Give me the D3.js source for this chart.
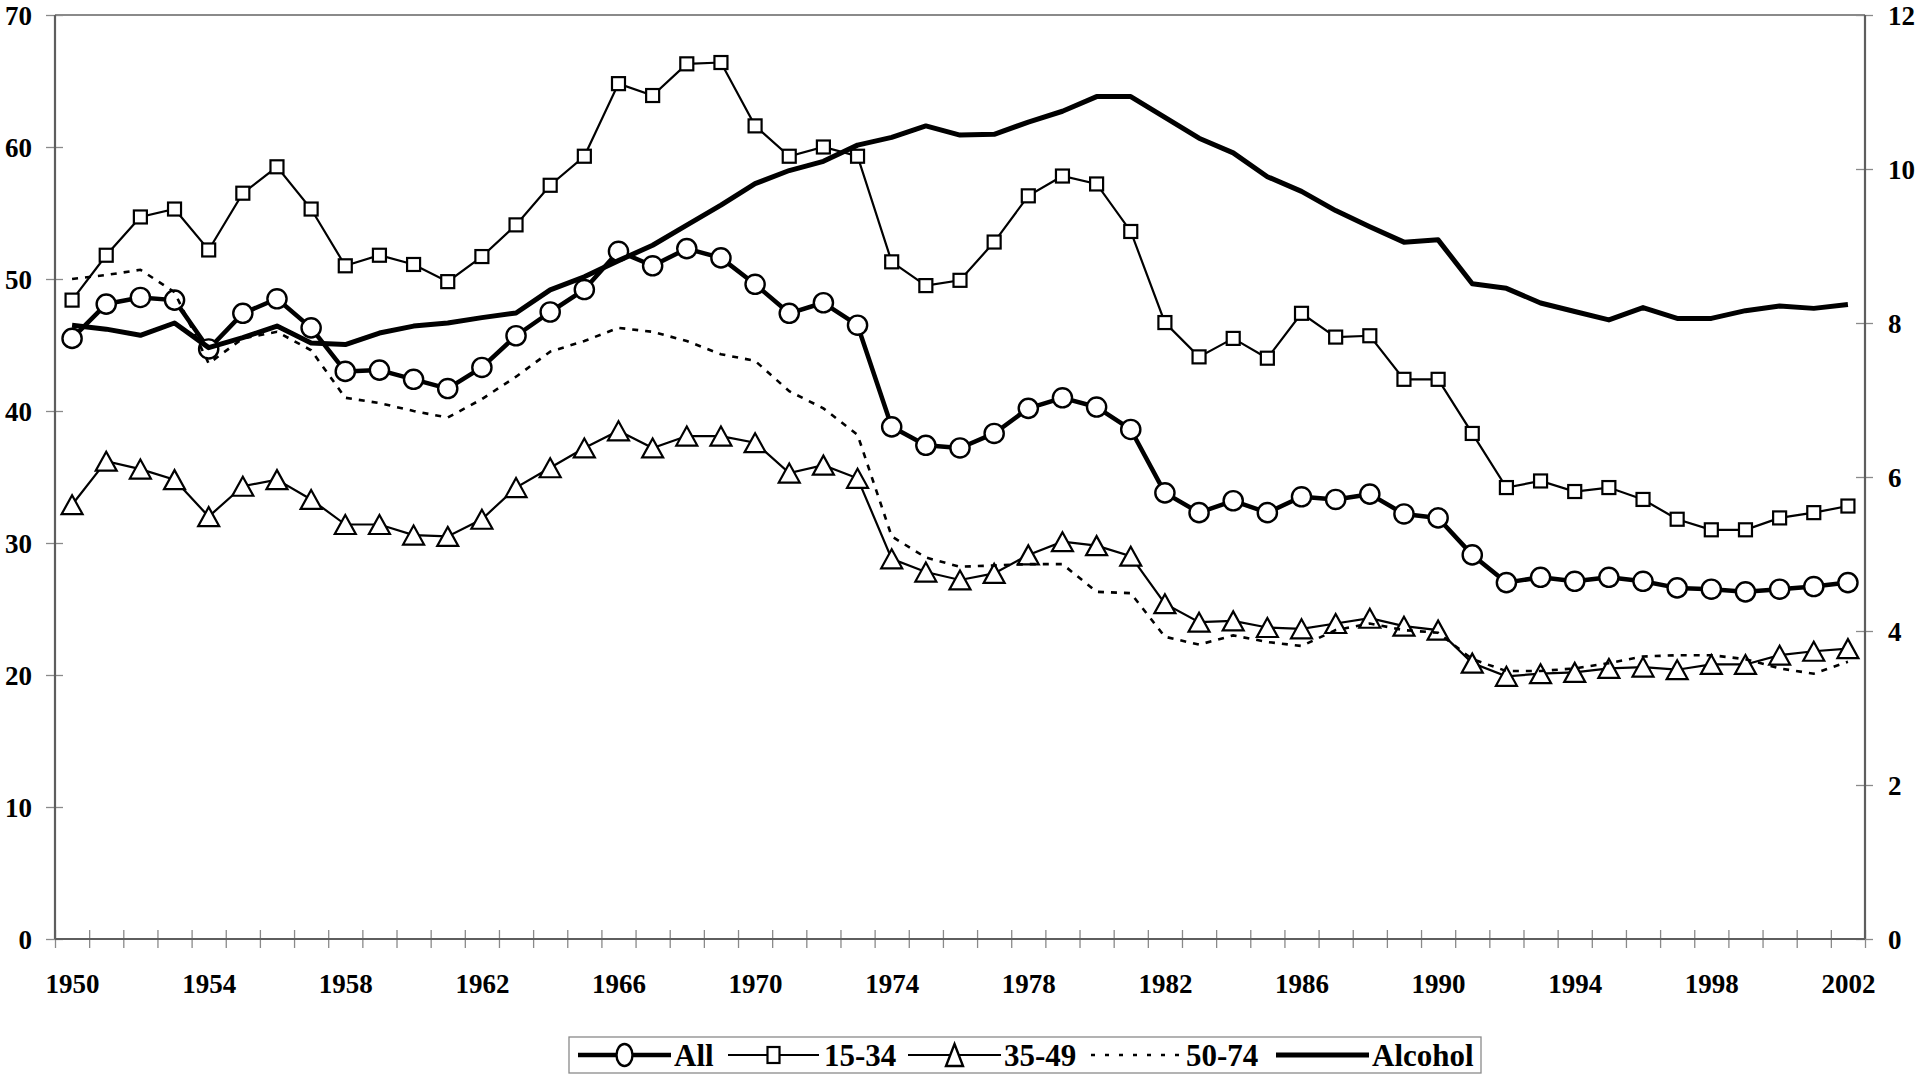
<!DOCTYPE html>
<html>
<head>
<meta charset="utf-8">
<script src="https://cdn.jsdelivr.net/npm/d3@7"></script>
<style>
  body { margin: 0; background: #fff; }
  svg text { font-family: "Liberation Serif", "Times New Roman", serif; font-weight: bold; fill: #000; }
</style>
</head>
<body>
<div id="chart"></div>
<script>
// categories
var years = d3.range(1950, 2003);
var yearLabels = [1950, 1954, 1958, 1962, 1966, 1970, 1974, 1978, 1982, 1986, 1990, 1994, 1998, 2002];
var leftTicks = [0, 10, 20, 30, 40, 50, 60, 70];
var rightTicks = [0, 2, 4, 6, 8, 10, 12];

// series (left axis)
var allAges = [45.5,48.1,48.6,48.4,44.7,47.4,48.5,46.3,43.0,43.1,
               42.4,41.7,43.3,45.7,47.5,49.2,52.1,51.0,52.3,51.6,
               49.6,47.4,48.2,46.5,38.8,37.4,37.2,38.3,40.2,41.0,
               40.3,38.6,33.8,32.3,33.2,32.3,33.5,33.3,33.7,32.2,
               31.9,29.1,27.0,27.4,27.1,27.4,27.1,26.6,26.5,26.3,
               26.5,26.7,27.0];
var age1534 = [48.4,51.8,54.7,55.3,52.2,56.5,58.5,55.3,51.0,51.8,
               51.1,49.8,51.7,54.1,57.1,59.3,64.8,63.9,66.3,66.4,
               61.6,59.3,60.0,59.3,51.3,49.5,49.9,52.8,56.3,57.8,
               57.2,53.6,46.7,44.1,45.5,44.0,47.4,45.6,45.7,42.4,
               42.4,38.3,34.2,34.7,33.9,34.2,33.3,31.8,31.0,31.0,
               31.9,32.3,32.8];
var age3549 = [32.9,36.2,35.6,34.8,32.0,34.3,34.8,33.3,31.4,31.4,
               30.6,30.5,31.8,34.2,35.7,37.2,38.5,37.2,38.1,38.1,
               37.6,35.3,35.9,34.9,28.8,27.8,27.2,27.7,29.1,30.1,
               29.8,29.0,25.4,24.0,24.1,23.6,23.5,23.9,24.3,23.7,
               23.4,20.9,19.9,20.1,20.2,20.5,20.6,20.4,20.8,20.8,
               21.5,21.8,22.0];
var age5074 = [50.0,50.3,50.7,49.0,43.6,45.5,46.0,44.6,41.0,40.6,
               40.0,39.5,40.9,42.6,44.5,45.3,46.3,46.0,45.3,44.3,
               43.8,41.5,40.2,38.2,30.5,28.9,28.2,28.3,28.4,28.4,
               26.3,26.2,22.9,22.3,23.0,22.5,22.2,23.4,23.9,23.4,
               23.2,21.2,20.3,20.3,20.5,20.9,21.4,21.5,21.5,21.2,
               20.5,20.1,21.0];
// series (right axis)
var alcohol = [7.97,7.92,7.84,8.00,7.68,7.81,7.96,7.74,7.72,7.87,
               7.96,8.00,8.07,8.13,8.43,8.60,8.81,9.01,9.27,9.53,
               9.81,9.98,10.10,10.31,10.41,10.56,10.44,10.45,10.61,10.75,
               10.94,10.94,10.67,10.40,10.21,9.90,9.71,9.46,9.25,9.05,
               9.08,8.51,8.45,8.26,8.15,8.04,8.20,8.06,8.06,8.16,
               8.22,8.19,8.24];
var legendNames = ["All", "15-34", "35-49", "50-74", "Alcohol"];

var W = 1920, H = 1080;
var plotL = 55, plotR = 1865, plotT = 15, plotB = 939;

var svg = d3.select("#chart").append("svg").attr("width", W).attr("height", H);

var x = d3.scalePoint().domain(years).range([plotL, plotR]).padding(0.5);
var xEdge = d3.scaleLinear().domain([1950, 2003]).range([plotL, plotR]);
var yL = d3.scaleLinear().domain([0, 70]).range([plotB, plotT]);
var yR = d3.scaleLinear().domain([0, 12]).range([plotB, plotT]);

var axisColor = "#5e5e5e", tickColor = "#8a8a8a";

// plot frame top
svg.append("line").attr("x1", plotL).attr("x2", plotR).attr("y1", plotT).attr("y2", plotT)
    .attr("stroke", "#8a8a8a").attr("stroke-width", 2);

// x ticks at category boundaries
var xt = svg.append("g").attr("transform", "translate(0," + plotB + ")")
    .call(d3.axisBottom(xEdge).tickValues(d3.range(1950, 2004)).tickFormat(""));
xt.select(".domain").remove();
xt.selectAll(".tick line").attr("y1", -9).attr("y2", 9).attr("stroke", tickColor).attr("stroke-width", 1.3);

// x labels
var xl = svg.append("g").attr("transform", "translate(0," + plotB + ")")
    .call(d3.axisBottom(x).tickValues(yearLabels).tickSize(0));
xl.select(".domain").remove();
xl.selectAll(".tick text").attr("y", 54).attr("dy", 0).style("font-size", "27px");

// left axis
var ly = svg.append("g").attr("transform", "translate(" + plotL + ",0)")
    .call(d3.axisLeft(yL).tickValues(leftTicks));
ly.select(".domain").remove();
ly.selectAll(".tick line").attr("x1", -9).attr("x2", 8).attr("stroke", tickColor).attr("stroke-width", 1.3);
ly.selectAll(".tick text").attr("x", -23).attr("dy", "0.34em").style("font-size", "27px");

// right axis
var ry = svg.append("g").attr("transform", "translate(" + plotR + ",0)")
    .call(d3.axisRight(yR).tickValues(rightTicks));
ry.select(".domain").remove();
ry.selectAll(".tick line").attr("x1", -9).attr("x2", 8).attr("stroke", tickColor).attr("stroke-width", 1.3);
ry.selectAll(".tick text").attr("x", 23).attr("dy", "0.34em").style("font-size", "27px");

// axis lines
svg.append("line").attr("x1", plotL).attr("x2", plotL).attr("y1", plotT).attr("y2", plotB)
    .attr("stroke", axisColor).attr("stroke-width", 2.2);
svg.append("line").attr("x1", plotR).attr("x2", plotR).attr("y1", plotT).attr("y2", plotB)
    .attr("stroke", axisColor).attr("stroke-width", 2.2);
svg.append("line").attr("x1", plotL).attr("x2", plotR).attr("y1", plotB).attr("y2", plotB)
    .attr("stroke", axisColor).attr("stroke-width", 2.2);

var lineL = d3.line().x((d, i) => x(years[i])).y(d => yL(d));
var lineR = d3.line().x((d, i) => x(years[i])).y(d => yR(d));

var triPath = "M0,-9.5L10.5,9.5L-10.5,9.5Z";

function drawMarkers(data, kind) {
    var g = svg.append("g");
    var sel = g.selectAll("path").data(data).enter();
    if (kind === "circle") {
        sel.append("circle").attr("cx", (d, i) => x(years[i])).attr("cy", d => yL(d)).attr("r", 9.6)
            .attr("fill", "#fff").attr("stroke", "#000").attr("stroke-width", 2.4);
    } else if (kind === "square") {
        sel.append("rect").attr("x", (d, i) => x(years[i]) - 6.5).attr("y", d => yL(d) - 6.5)
            .attr("width", 13).attr("height", 13)
            .attr("fill", "#fff").attr("stroke", "#000").attr("stroke-width", 2.2);
    } else {
        sel.append("path").attr("d", triPath)
            .attr("transform", (d, i) => "translate(" + x(years[i]) + "," + yL(d) + ")")
            .attr("fill", "#fff").attr("stroke", "#000").attr("stroke-width", 2.2).attr("stroke-linejoin", "miter");
    }
}

// All
svg.append("path").datum(allAges).attr("d", lineL).attr("fill", "none")
    .attr("stroke", "#000").attr("stroke-width", 4.5).attr("stroke-linejoin", "round");
drawMarkers(allAges, "circle");
// 15-34
svg.append("path").datum(age1534).attr("d", lineL).attr("fill", "none")
    .attr("stroke", "#000").attr("stroke-width", 2.2);
drawMarkers(age1534, "square");
// 35-49
svg.append("path").datum(age3549).attr("d", lineL).attr("fill", "none")
    .attr("stroke", "#000").attr("stroke-width", 2.2);
drawMarkers(age3549, "triangle");
// 50-74
svg.append("path").datum(age5074).attr("d", lineL).attr("fill", "none")
    .attr("stroke", "#000").attr("stroke-width", 2.6).attr("stroke-dasharray", "6,7");
// Alcohol
svg.append("path").datum(alcohol).attr("d", lineR).attr("fill", "none")
    .attr("stroke", "#000").attr("stroke-width", 5).attr("stroke-linejoin", "round");

// legend
var lg = svg.append("g");
lg.append("rect").attr("x", 569).attr("y", 1037).attr("width", 912).attr("height", 36)
    .attr("fill", "#fff").attr("stroke", "#8a8a8a").attr("stroke-width", 1.3);
var legendX = [[578, 671, 674], [728, 819, 824], [908, 1001, 1004], [1091, 1180, 1186], [1276, 1369, 1372]];
var legY = 1055;
legendNames.forEach((name, i) => {
    var p = legendX[i];
    var ln = lg.append("line").attr("x1", p[0]).attr("x2", p[1]).attr("y1", legY).attr("y2", legY).attr("stroke", "#000");
    var mid = (p[0] + p[1]) / 2;
    if (i === 0) {
        ln.attr("stroke-width", 4.5);
        lg.append("ellipse").attr("cx", mid).attr("cy", legY).attr("rx", 8).attr("ry", 11)
            .attr("fill", "#fff").attr("stroke", "#000").attr("stroke-width", 2.4);
    } else if (i === 1) {
        ln.attr("stroke-width", 2.2);
        lg.append("rect").attr("x", mid - 6).attr("y", legY - 8).attr("width", 12).attr("height", 16)
            .attr("fill", "#fff").attr("stroke", "#000").attr("stroke-width", 2.2);
    } else if (i === 2) {
        ln.attr("stroke-width", 2.2);
        lg.append("path").attr("d", "M0,-11L8.5,11L-8.5,11Z").attr("transform", "translate(" + mid + "," + legY + ")")
            .attr("fill", "#fff").attr("stroke", "#000").attr("stroke-width", 2.4);
    } else if (i === 3) {
        ln.attr("stroke-width", 2.6).attr("stroke-dasharray", "4,10");
    } else {
        ln.attr("stroke-width", 5);
    }
    lg.append("text").attr("x", p[2]).attr("y", legY + 11).style("font-size", "31px").text(name);
});
</script>
</body>
</html>
